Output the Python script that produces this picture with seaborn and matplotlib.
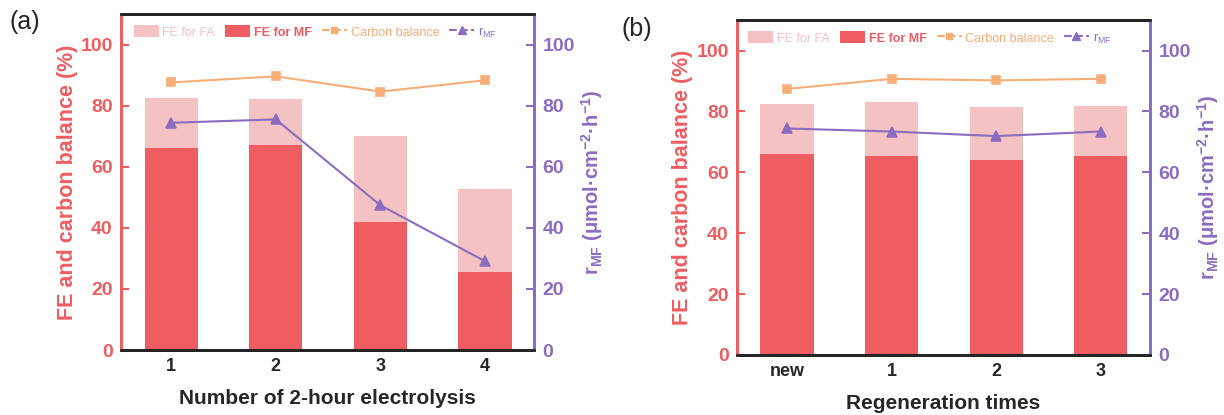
import numpy as np
import pandas as pd
import seaborn as sns
import matplotlib.pyplot as plt
from matplotlib.patches import Patch
from matplotlib.lines import Line2D

# panel (a) data
cats_a = ["1", "2", "3", "4"]
fe_total_a = [82.4, 82.1, 70.1, 52.6]   # FE for FA + FE for MF (bar top)
fe_mf_a = [66.2, 67.2, 41.9, 25.6]
carbon_a = [87.6, 89.6, 84.6, 88.3]
rmf_a = [74.4, 75.5, 47.4, 29.1]

# panel (b) data
cats_b = ["new", "1", "2", "3"]
fe_total_b = [82.3, 83.1, 81.5, 81.9]
fe_mf_b = [66.0, 65.2, 63.9, 65.4]
carbon_b = [87.4, 90.7, 90.2, 90.7]
rmf_b = [74.4, 73.4, 71.9, 73.4]

sns.set_theme(style="white")
plt.rcParams['font.family'] = ['Liberation Sans', 'DejaVu Sans']
plt.rcParams['mathtext.fontset'] = 'custom'
plt.rcParams['mathtext.rm'] = 'Liberation Sans'
plt.rcParams['mathtext.bf'] = 'Liberation Sans:bold'

RED = "#EE5D61"
PINK = "#F4C2C3"
ORANGE = "#F5AE78"
PURPLE = "#8C6CC0"


def draw_panel(fig, rect, cats, total, mf, carbon, rmf, xlabel, tag, tagpos, legx):
    df = pd.DataFrame({"cat": cats, "total": total, "mf": mf,
                       "carbon": carbon, "rmf": rmf})
    ax = fig.add_axes(rect)
    sns.barplot(data=df, x="cat", y="total", color=PINK, width=0.51,
                saturation=1, linewidth=0, ax=ax)
    sns.barplot(data=df, x="cat", y="mf", color=RED, width=0.51,
                saturation=1, linewidth=0, ax=ax)
    sns.pointplot(data=df, x="cat", y="carbon", color=ORANGE, markers="s",
                  markersize=5.5, linewidth=1.5, ax=ax)
    ax2 = ax.twinx()
    sns.pointplot(data=df, x="cat", y="rmf", color=PURPLE, markers="^",
                  markersize=7, linewidth=1.5, ax=ax2)

    ax.set_xlim(-0.48, 3.47)
    ax.set_ylim(0, 110)
    ax2.set_ylim(0, 110)
    ax.set_yticks([0, 20, 40, 60, 80, 100])
    ax2.set_yticks([0, 20, 40, 60, 80, 100])

    for s in list(ax.spines.values()) + list(ax2.spines.values()):
        s.set_linewidth(2)
    ax.spines['left'].set_color(RED)
    ax2.spines['left'].set_color(RED)
    ax.spines['right'].set_color(PURPLE)
    ax2.spines['right'].set_color(PURPLE)
    ax.spines['top'].set_color("black")
    ax.spines['bottom'].set_color("black")

    ax.tick_params(axis='y', direction='in', length=6, width=1.5, color=RED,
                   labelcolor=RED, labelsize=14, pad=6)
    ax2.tick_params(axis='y', direction='in', length=6, width=1.5, color=PURPLE,
                    labelcolor=PURPLE, labelsize=14, pad=6)
    ax.tick_params(axis='x', length=0, labelsize=13, pad=6)
    for lab in ax.get_yticklabels() + ax2.get_yticklabels() + ax.get_xticklabels():
        lab.set_fontweight('bold')

    ax.set_ylabel("FE and carbon balance (%)", color=RED, fontsize=15.5,
                  fontweight='bold', labelpad=2)
    ax2.set_ylabel(r"r$_{\mathbf{MF}}$ ($\mathbf{\mu}$mol·cm$^{\mathbf{-2}}$·h$^{\mathbf{-1}}$)",
                   color=PURPLE, fontsize=14.5, fontweight='bold', labelpad=3)
    ax.set_xlabel(xlabel, fontsize=15, fontweight='bold', labelpad=10)

    handles = [
        Patch(facecolor=PINK, edgecolor='none'),
        Patch(facecolor=RED, edgecolor='none'),
        Line2D([], [], color=ORANGE, marker='s', markersize=5, linestyle='--', lw=1.5),
        Line2D([], [], color=PURPLE, marker='^', markersize=6, linestyle='--', lw=1.5),
    ]
    labels = ["FE for FA", "FE for MF", "Carbon balance", r"r$_{\mathrm{MF}}$"]
    leg = ax2.legend(handles, labels, loc='upper center', ncol=4, frameon=False,
                     fontsize=9, handlelength=2.0, handleheight=1.1,
                     columnspacing=0.8, handletextpad=0.3,
                     bbox_to_anchor=(legx, 1.0))
    for txt, col in zip(leg.get_texts(), [PINK, RED, ORANGE, PURPLE]):
        txt.set_color(col)
    leg.get_texts()[1].set_fontweight('bold')

    fig.text(tagpos[0], tagpos[1], tag, fontsize=18, va='top', ha='left')


fig = plt.figure(figsize=(12.24, 4.15), dpi=100)
draw_panel(fig, [0.0989, 0.1566, 0.3374, 0.8096], cats_a, fe_total_a, fe_mf_a,
           carbon_a, rmf_a, "Number of 2-hour electrolysis", "(a)",
           (0.008, 0.975), 0.47)
draw_panel(fig, [0.6021, 0.1446, 0.3374, 0.807], cats_b, fe_total_b, fe_mf_b,
           carbon_b, rmf_b, "Regeneration times", "(b)",
           (0.508, 0.96), 0.467)

fig.savefig("out.png", dpi=100)
